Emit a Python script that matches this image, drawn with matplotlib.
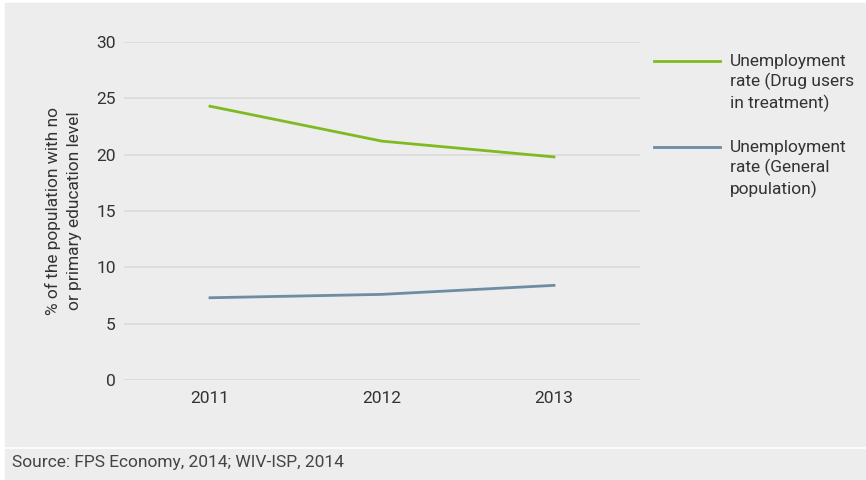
import matplotlib
matplotlib.use('Agg')
import matplotlib.pyplot as plt
from matplotlib.lines import Line2D
from matplotlib.patches import Rectangle

plt.rcParams['font.family'] = ['Roboto', 'DejaVu Sans']

years = ['2011', '2012', '2013']
drug_users = [24.3, 21.2, 19.8]
general_pop = [7.3, 7.6, 8.4]
series_labels = ['Unemployment\nrate (Drug users\nin treatment)',
                 'Unemployment\nrate (General\npopulation)']
series_colors = ['#7FBA23', '#6E8CA2']
yticks = [0, 5, 10, 15, 20, 25, 30]

BG = '#ECEDEC'
TXT = '#333333'
W, H = 866, 480

fig = plt.figure(figsize=(W / 100, H / 100), dpi=100)
fig.patch.set_facecolor('white')
# gray panels (chart + source strip) separated by a white line
fig.add_artist(Rectangle((5 / W, 1 - 446 / H), 1, (446 - 3) / H,
                         transform=fig.transFigure, color=BG, zorder=0))
fig.add_artist(Rectangle((5 / W, 0), 1, 1 - 449 / H,
                         transform=fig.transFigure, color=BG, zorder=0))

ax = fig.add_axes([124 / W, 1 - 380 / H, (640 - 124) / W, (380 - 42) / H])
ax.patch.set_alpha(0)

x = range(len(years))
ax.plot(x, drug_users, color=series_colors[0], lw=2, zorder=3)
ax.plot(x, general_pop, color=series_colors[1], lw=2, zorder=3)

ax.set_xlim(-0.5, 2.5)
ax.set_ylim(0, 30)
ax.set_xticks(list(x))
ax.set_xticklabels(years)
ax.set_yticks(yticks)
ax.yaxis.grid(True, color='#D9DADA', lw=1.2)
ax.set_axisbelow(True)
for s in ax.spines.values():
    s.set_visible(False)
ax.tick_params(length=0, labelsize=12.5, colors=TXT)
ax.tick_params(axis='y', pad=6)
ax.tick_params(axis='x', pad=8)
ax.set_ylabel('% of the population with no\nor primary education level',
              fontsize=12.5, color=TXT, labelpad=10, linespacing=1.5)

# legend, drawn by hand so the line sits at the first text line
for i, (lab, col) in enumerate(zip(series_labels, series_colors)):
    yc = 1 - (61 + i * 86) / H
    fig.add_artist(Line2D([654 / W, 720 / W], [yc, yc], color=col, lw=2,
                          transform=fig.transFigure))
    fig.text(730 / W, yc + 7 / H, lab, fontsize=12.5, color=TXT,
             va='top', ha='left', linespacing=1.3)

fig.text(12 / W, 1 - 462 / H, 'Source: FPS Economy, 2014; WIV-ISP, 2014',
         fontsize=12.5, color='#444444', va='center', ha='left')

fig.savefig('out.png', dpi=100, facecolor=fig.get_facecolor())
